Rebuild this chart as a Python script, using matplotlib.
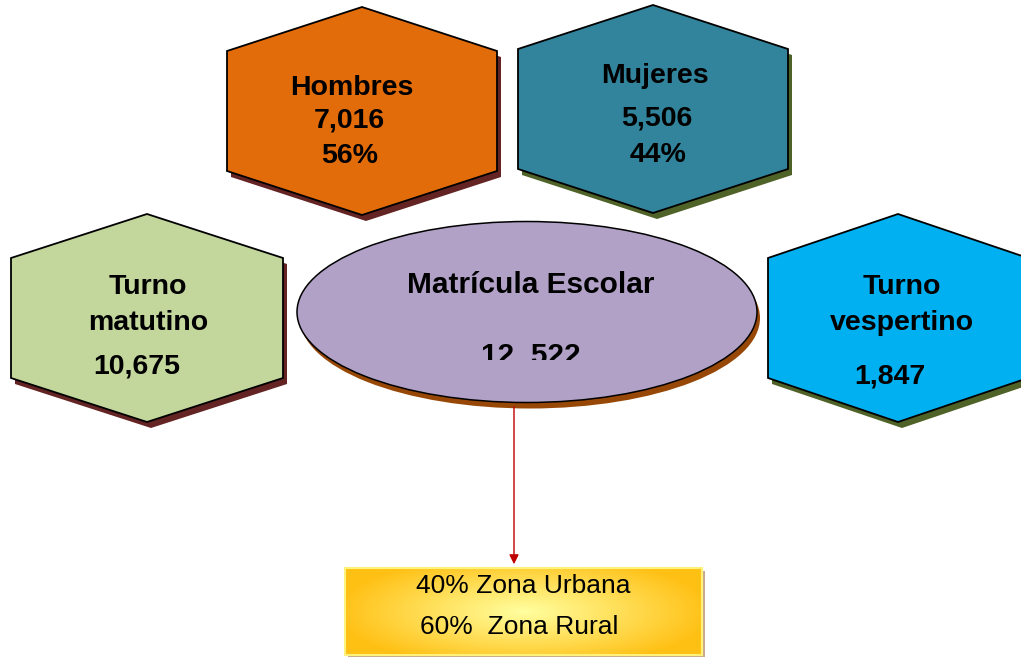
import numpy as np
import matplotlib
matplotlib.use("Agg")
import matplotlib.pyplot as plt
from matplotlib.patches import Polygon, Ellipse, Rectangle, FancyArrowPatch
from matplotlib.transforms import Bbox, TransformedBbox

plt.rcParams["font.family"] = ["Liberation Sans", "DejaVu Sans"]

# datos
total = "12. 522"
sexo = ["Hombres", "Mujeres"]
sexo_valores = ["7,016", "5,506"]
sexo_pct = ["56%", "44%"]
turnos = ["Turno\nmatutino", "Turno\nvespertino"]
turnos_valores = ["10,675", "1,847"]
zonas = ["Zona Urbana", "Zona Rural"]
zonas_pct = ["40%", "60%"]

fig = plt.figure(figsize=(10.21, 6.57), dpi=100)
ax = fig.add_axes([0, 0, 1, 1])
ax.set_xlim(0, 1021)
ax.set_ylim(657, 0)
ax.axis("off")


def hexagono(cx, cy, color, sombra, hw=135, hh=104, sh=60):
    pts = [(cx, cy - hh), (cx + hw, cy - sh), (cx + hw, cy + sh),
           (cx, cy + hh), (cx - hw, cy + sh), (cx - hw, cy - sh)]
    sp = [(x + 4, y + 6) for x, y in pts]
    ax.add_patch(Polygon(sp, closed=True, facecolor=sombra, edgecolor="none", zorder=1))
    ax.add_patch(Polygon(pts, closed=True, facecolor=color, edgecolor="black",
                         linewidth=1.3, zorder=2))


bold = dict(fontsize=20.5, fontweight="bold", ha="center", va="center", zorder=5)

# hexagonos superiores (sexo)
hexagono(362, 111, "#e36c0a", "#632423")
ax.text(352, 88, sexo[0], **bold)
ax.text(349, 120, sexo_valores[0], **bold)
ax.text(350, 156, sexo_pct[0], **bold)

hexagono(653, 109, "#31849b", "#4f6228")
ax.text(655, 76, sexo[1], **bold)
ax.text(657, 119, sexo_valores[1], **bold)
ax.text(658, 155, sexo_pct[1], **bold)

# hexagonos laterales (turnos)
hexagono(147, 318, "#c3d69b", "#632423", hw=136)
ax.text(148, 305, turnos[0], linespacing=1.55, **bold)
ax.text(137, 367, turnos_valores[0], **bold)

hexagono(898, 318, "#00b0f0", "#4f6228", hw=130)
ax.text(902, 305, turnos[1], linespacing=1.55, **bold)
ax.text(890, 377, turnos_valores[1], **bold)

# elipse central
ax.add_patch(Ellipse((530, 318), 460, 181, facecolor="#984806", edgecolor="none", zorder=1))
ax.add_patch(Ellipse((527, 312), 460, 181, facecolor="#b2a1c7", edgecolor="black",
                     linewidth=1.1, zorder=2))
ax.text(531, 285, "Matrícula Escolar", fontsize=21.5, fontweight="bold",
        ha="center", va="center", zorder=5)
t = ax.text(531, 364, total, fontsize=21.5, fontweight="bold",
            ha="center", va="baseline", zorder=5)
t.set_clip_box(TransformedBbox(Bbox([[400, 330], [660, 360]]), ax.transData))
t.set_clip_on(True)

# flecha
ax.add_patch(FancyArrowPatch((514, 404), (514, 567), arrowstyle="-|>",
                             mutation_scale=14, color="#c00000", linewidth=1.0, zorder=3))

# caja con degradado
x0, x1, y0, y1 = 345, 702, 568, 655
gx, gy = np.meshgrid(np.linspace(-1, 1, 300), np.linspace(-1, 1, 80))
r = np.clip(np.sqrt((gx * 0.95) ** 2 + (gy * 0.75) ** 2), 0, 1)
c_in = np.array([255, 255, 160]) / 255
c_out = np.array([255, 192, 20]) / 255
img = c_in[None, None, :] * (1 - r[..., None]) + c_out[None, None, :] * r[..., None]
ax.add_patch(Rectangle((x0 + 3, y0 + 3), x1 - x0, y1 - y0, facecolor="#c9a98c",
                       edgecolor="none", zorder=2))
ax.imshow(img, extent=(x0, x1, y1, y0), aspect="auto", zorder=3, interpolation="bilinear")
ax.add_patch(Rectangle((x0, y0), x1 - x0, y1 - y0, facecolor="none",
                       edgecolor="#fff27a", linewidth=1.5, zorder=4))
ax.set_xlim(0, 1021)
ax.set_ylim(657, 0)
ax.text(523, 586, f"{zonas_pct[0]} {zonas[0]}", fontsize=19, ha="center", va="center", zorder=5)
ax.text(519, 627, f"{zonas_pct[1]}  {zonas[1]}", fontsize=19, ha="center", va="center", zorder=5)

fig.savefig("out.png", dpi=100)
